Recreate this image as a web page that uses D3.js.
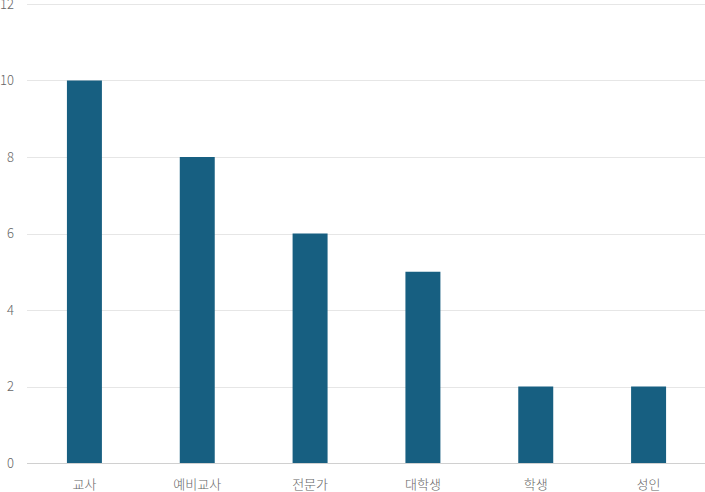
<!DOCTYPE html>
<html>
<head>
<meta charset="utf-8">
<script src="https://cdn.jsdelivr.net/npm/d3@7"></script>
<style>
  body { margin: 0; background: #fff; }
  text { font-family: "Noto Sans CJK KR", "Noto Sans", sans-serif; font-weight: 300; }
</style>
</head>
<body>
<svg id="chart" width="705" height="492"></svg>
<script>
// data
var categories = ["교사", "예비교사", "전문가", "대학생", "학생", "성인"];
var counts = [10, 8, 6, 5, 2, 2];
var yTicks = [0, 2, 4, 6, 8, 10, 12];

var svg = d3.select("#chart");
var plotLeft = 28, plotRight = 705, plotTop = 4, plotBottom = 463;

var x = d3.scaleBand().domain(categories).range([plotLeft, plotRight]).paddingInner(0.69).paddingOuter(0.345);
var y = d3.scaleLinear().domain([0, 12]).range([plotBottom, plotTop]);

// grid
svg.append("g").selectAll("line")
  .data(yTicks)
  .enter().append("line")
  .attr("x1", plotLeft - 1).attr("x2", plotRight)
  .attr("y1", function(d) { return Math.round(y(d)) + 0.5; })
  .attr("y2", function(d) { return Math.round(y(d)) + 0.5; })
  .attr("stroke", function(d) { return d === 0 ? "#d0d0d0" : "#e6e6e6"; });

// y labels
svg.append("g").selectAll("text")
  .data(yTicks)
  .enter().append("text")
  .attr("x", 14)
  .attr("y", function(d) { return y(d) + 4.5; })
  .attr("text-anchor", "end")
  .attr("font-size", 13)
  .attr("fill", "#666")
  .text(function(d) { return d; });

// bars
svg.append("g").selectAll("rect")
  .data(counts)
  .enter().append("rect")
  .attr("x", function(d, i) { return x(categories[i]); })
  .attr("width", x.bandwidth())
  .attr("y", function(d) { return y(d); })
  .attr("height", function(d) { return y(0) - y(d); })
  .attr("fill", "#175f81");

// x labels
svg.append("g").selectAll("text")
  .data(categories)
  .enter().append("text")
  .attr("x", function(d) { return x(d) + x.bandwidth() / 2; })
  .attr("y", 489)
  .attr("text-anchor", "middle")
  .attr("font-size", 13)
  .attr("fill", "#666")
  .text(function(d) { return d; });
</script>
</body>
</html>
